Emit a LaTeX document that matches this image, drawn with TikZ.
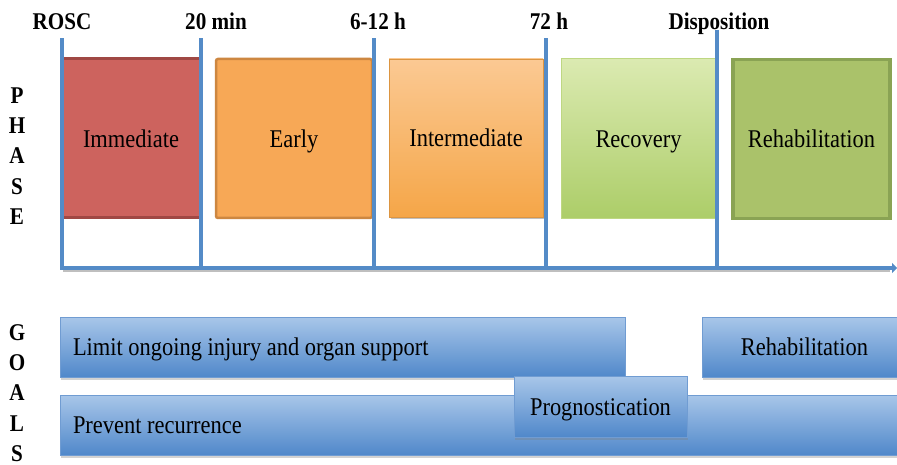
\documentclass[tikz,border=0pt]{standalone}
\usepackage{fontspec}
\setmainfont[FakeStretch=0.88]{Liberation Serif}
\usetikzlibrary{arrows.meta,shadows}
\definecolor{tline}{RGB}{84,139,199}
\definecolor{immfill}{RGB}{205,99,94}
\definecolor{immdraw}{RGB}{160,72,68}
\definecolor{earfill}{RGB}{247,168,86}
\definecolor{eardraw}{RGB}{205,135,65}
\definecolor{inttop}{RGB}{251,201,147}
\definecolor{intbot}{RGB}{245,166,72}
\definecolor{rectop}{RGB}{219,234,177}
\definecolor{recbot}{RGB}{172,205,104}
\definecolor{recdraw}{RGB}{190,215,130}
\definecolor{rehfill}{RGB}{170,194,106}
\definecolor{rehdraw}{RGB}{138,163,84}
\definecolor{gtop}{RGB}{168,198,233}
\definecolor{gbot}{RGB}{80,136,202}
\definecolor{gdraw}{RGB}{112,156,210}
\begin{document}
\begin{tikzpicture}[x=1pt,y=-1pt,
  every node/.style={inner sep=0pt,outer sep=0pt},
  boxtext/.style={font=\fontsize{25.5}{30}\selectfont,text height=17.5pt,text depth=0pt,align=center},
  ticklabel/.style={font=\fontsize{24}{28}\selectfont\bfseries,anchor=base},
  sidelabel/.style={font=\fontsize{24}{30.3}\selectfont\bfseries,align=center},
  tickline/.style={draw=tline,line width=3.5pt},
  lineshadow/.style={draw=black,opacity=0.25,line width=3.5pt},
  phasebox/.style={boxtext,anchor=north west},
  goalbar/.style={boxtext,anchor=north west,draw=gdraw,line width=0.8pt,top color=gtop,bottom color=gbot,
    drop shadow={opacity=0.35,shadow xshift=1pt,shadow yshift=-2.5pt}},
  shadowed/.style={drop shadow={opacity=0.5,shadow xshift=1.5pt,shadow yshift=-2.5pt}}
]
\useasboundingbox[fill=white] (0,0) rectangle (897,465);

% side labels
\node[sidelabel] (phase) at (17,156) {P\\H\\A\\S\\E};
\node[sidelabel] (goals) at (17,393) {G\\O\\A\\L\\S};

% phase boxes
\node[phasebox,fill=immfill,draw=immdraw,line width=3pt,minimum width=138pt,minimum height=159pt] (imm) at (62,59) {Immediate};
\node[phasebox,fill=earfill,draw=eardraw,line width=2.5pt,rounded corners=2pt,minimum width=156pt,minimum height=159pt] (ear) at (216,59) {Early};
\node[phasebox,top color=inttop,bottom color=intbot,draw=intbot!90!black,line width=0.5pt,shadowed,minimum width=154pt,minimum height=158pt] (int) at (389,59) {Intermediate};
\node[phasebox,top color=rectop,bottom color=recbot,draw=recdraw,line width=1pt,minimum width=155pt,minimum height=160pt] (rec) at (561,59) {Recovery};
\node[phasebox,fill=rehfill,draw=rehdraw,line width=3.5pt,minimum width=157pt,minimum height=159pt] (reh) at (733,59.5) {Rehabilitation};

% tick labels
\node[ticklabel] (lrosc) at (62,30) {ROSC};
\node[ticklabel] (l20) at (216,30) {20 min};
\node[ticklabel] (l612) at (378,30) {6-12 h};
\node[ticklabel] (l72) at (549,30) {72 h};
\node[ticklabel] (ldisp) at (719,30) {Disposition};

% timeline
\coordinate (t1) at (62,40);   \coordinate (b1) at (62,268);
\coordinate (t2) at (201,40);  \coordinate (b2) at (201,268);
\coordinate (t3) at (374,40);  \coordinate (b3) at (374,268);
\coordinate (t4) at (546,40);  \coordinate (b4) at (546,268);
\coordinate (t5) at (717,32);  \coordinate (b5) at (717,268);
\coordinate (aend) at (897,268);
\coordinate (send) at (889,268);
\draw[lineshadow,transform canvas={xshift=1pt,yshift=-2.5pt}] (b1) -- (send);
\draw[tickline,-{Triangle[length=5pt,width=10pt]}] (b1) -- (aend);
\foreach \i in {1,...,5} {\draw[tickline,line cap=rect] (t\i) -- (b\i);}

% goal bars
\node[goalbar,minimum width=565pt,minimum height=60pt,text width=539pt,align=flush left,inner xsep=13pt] (limit) at (60,317) {Limit ongoing injury and organ support};
\node[goalbar,minimum width=840pt,minimum height=60pt,text width=814pt,align=flush left,inner xsep=13pt] (prev) at (60,395) {Prevent recurrence};
\node[goalbar,minimum width=198pt,minimum height=60pt,inner xsep=0pt] (rehg) at (702,317) {\hspace*{7pt}Rehabilitation};
\node[goalbar,minimum width=173pt,minimum height=61pt] (prog) at (514,376) {Prognostication};
\end{tikzpicture}
\end{document}
